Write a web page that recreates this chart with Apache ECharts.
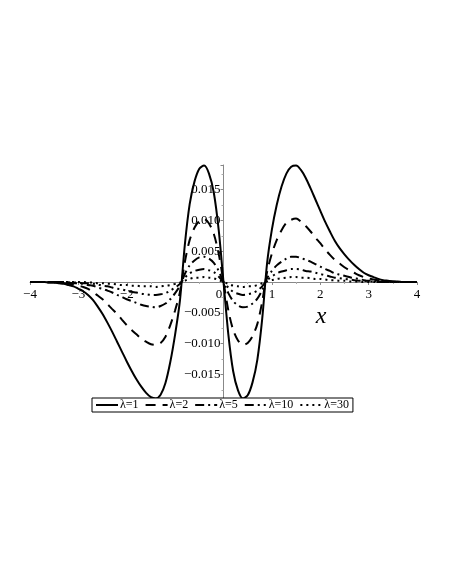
<!DOCTYPE html>
<html>
<head>
<meta charset="utf-8">
<title>lambda curves</title>
<script src="https://cdn.jsdelivr.net/npm/echarts@6/dist/echarts.min.js"></script>
<style>
  html, body { margin: 0; padding: 0; background: #fff; }
</style>
</head>
<body>
<div id="main" style="width:449px;height:580px;"></div>
<script type="text/javascript">
var xs = [-4.0, -3.9, -3.8, -3.7, -3.6, -3.5, -3.4, -3.3, -3.2, -3.1,
  -3.0, -2.9, -2.8, -2.7, -2.6, -2.5, -2.4, -2.3, -2.2, -2.1,
  -2.0, -1.9, -1.8, -1.7, -1.6, -1.5, -1.4, -1.3, -1.2, -1.1,
  -1.0, -0.9, -0.8, -0.7, -0.6, -0.5, -0.4, -0.3, -0.2, -0.1,
  0, 0.1, 0.2, 0.3, 0.4, 0.5, 0.6, 0.7, 0.8, 0.9,
  1.0, 1.1, 1.2, 1.3, 1.4, 1.5, 1.6, 1.7, 1.8, 1.9,
  2.0, 2.1, 2.2, 2.3, 2.4, 2.5, 2.6, 2.7, 2.8, 2.9,
  3.0, 3.1, 3.2, 3.3, 3.4, 3.5, 3.6, 3.7, 3.8, 3.9,
  4.0];

var lam1 = [0, 0, 0, 0, -0.0001, -0.0001, -0.0002, -0.0003, -0.0005, -0.0007,
  -0.0011, -0.0015, -0.0021, -0.0029, -0.0040, -0.0052, -0.0066, -0.0081, -0.0097, -0.0113,
  -0.0129, -0.0144, -0.0158, -0.0170, -0.0180, -0.0187, -0.0189, -0.0183, -0.0164, -0.0130,
  -0.0085, -0.0030, 0.0060, 0.0126, 0.0163, 0.0184, 0.0189, 0.0176, 0.0145, 0.0085,
  0, -0.0085, -0.0145, -0.0176, -0.0189, -0.0184, -0.0163, -0.0126, -0.0060, 0.0030,
  0.0085, 0.0125, 0.0155, 0.0176, 0.0187, 0.0189, 0.0182, 0.0169, 0.0152, 0.0134,
  0.0116, 0.0098, 0.0082, 0.0067, 0.0055, 0.0045, 0.0036, 0.0028, 0.0021, 0.0015,
  0.0011, 0.0008, 0.0005, 0.0003, 0.0002, 0.0001, 0.0001, 0, 0, 0,
  0];
var lam2 = [0, 0, 0, 0, -0.0001, -0.0001, -0.0001, -0.0002, -0.0003, -0.0004,
  -0.0006, -0.0008, -0.0011, -0.0016, -0.0022, -0.0028, -0.0036, -0.0044, -0.0052, -0.0061,
  -0.0070, -0.0078, -0.0085, -0.0092, -0.0097, -0.0101, -0.0102, -0.0099, -0.0089, -0.0070,
  -0.0046, -0.0016, 0.0032, 0.0068, 0.0088, 0.0099, 0.0102, 0.0095, 0.0078, 0.0046,
  0, -0.0046, -0.0078, -0.0095, -0.0102, -0.0099, -0.0088, -0.0068, -0.0032, 0.0016,
  0.0046, 0.0068, 0.0084, 0.0096, 0.0101, 0.0103, 0.0098, 0.0091, 0.0082, 0.0072,
  0.0063, 0.0053, 0.0044, 0.0036, 0.0030, 0.0024, 0.0019, 0.0015, 0.0011, 0.0008,
  0.0006, 0.0004, 0.0003, 0.0002, 0.0001, 0.0001, 0, 0, 0, 0,
  0];
var lam5 = [0, 0, 0, 0, 0, 0, 0, -0.0001, -0.0001, -0.0002,
  -0.0002, -0.0003, -0.0005, -0.0006, -0.0009, -0.0011, -0.0014, -0.0017, -0.0021, -0.0024,
  -0.0028, -0.0031, -0.0034, -0.0037, -0.0039, -0.0040, -0.0041, -0.0039, -0.0035, -0.0028,
  -0.0018, -0.0006, 0.0013, 0.0027, 0.0035, 0.0040, 0.0041, 0.0038, 0.0031, 0.0018,
  0, -0.0018, -0.0031, -0.0038, -0.0041, -0.0040, -0.0035, -0.0027, -0.0013, 0.0006,
  0.0018, 0.0027, 0.0033, 0.0038, 0.0041, 0.0041, 0.0039, 0.0036, 0.0033, 0.0029,
  0.0025, 0.0021, 0.0018, 0.0014, 0.0012, 0.0010, 0.0008, 0.0006, 0.0005, 0.0003,
  0.0002, 0.0002, 0.0001, 0.0001, 0, 0, 0, 0, 0, 0,
  0];
var lam10 = [0, 0, 0, 0, 0, 0, 0, 0, -0.0001, -0.0001,
  -0.0001, -0.0002, -0.0002, -0.0003, -0.0004, -0.0006, -0.0007, -0.0009, -0.0011, -0.0012,
  -0.0014, -0.0016, -0.0017, -0.0019, -0.0020, -0.0021, -0.0021, -0.0020, -0.0018, -0.0014,
  -0.0009, -0.0003, 0.0007, 0.0014, 0.0018, 0.0020, 0.0021, 0.0019, 0.0016, 0.0009,
  0, -0.0009, -0.0016, -0.0019, -0.0021, -0.0020, -0.0018, -0.0014, -0.0007, 0.0003,
  0.0009, 0.0014, 0.0017, 0.0019, 0.0021, 0.0021, 0.0020, 0.0018, 0.0017, 0.0015,
  0.0013, 0.0011, 0.0009, 0.0007, 0.0006, 0.0005, 0.0004, 0.0003, 0.0002, 0.0002,
  0.0001, 0.0001, 0, 0, 0, 0, 0, 0, 0, 0,
  0];
var lam30 = [0, 0, 0, 0, 0, 0, 0, 0, 0, 0,
  0, 0, -0.0001, -0.0001, -0.0002, -0.0002, -0.0003, -0.0003, -0.0004, -0.0005,
  -0.0005, -0.0006, -0.0006, -0.0007, -0.0007, -0.0007, -0.0008, -0.0007, -0.0006, -0.0005,
  -0.0003, -0.0001, 0.0002, 0.0005, 0.0007, 0.0007, 0.0008, 0.0007, 0.0006, 0.0003,
  0, -0.0003, -0.0006, -0.0007, -0.0008, -0.0007, -0.0007, -0.0005, -0.0002, 0.0001,
  0.0003, 0.0005, 0.0006, 0.0007, 0.0008, 0.0008, 0.0007, 0.0007, 0.0006, 0.0005,
  0.0005, 0.0004, 0.0003, 0.0003, 0.0002, 0.0002, 0.0001, 0.0001, 0.0001, 0,
  0, 0, 0, 0, 0, 0, 0, 0, 0, 0,
  0];

var names = ['λ=1', 'λ=2', 'λ=5', 'λ=10', 'λ=30'];
var values = [lam1, lam2, lam5, lam10, lam30];
var dashes = ['solid', [10, 7], [9, 4, 2, 4], [9, 4, 2, 4, 2, 4], [2, 4]];

var serif = 'Liberation Serif';

function pairs(ys) {
  return xs.map(function (x, i) { return [x, ys[i]]; });
}
function minus(s) {
  return String(s).replace('-', '\u2212');
}

var myChart = echarts.init(document.getElementById('main'));

var gridLeft = 30, gridWidth = 387, gridTop = 165, gridHeight = 234;
var yMin = -0.019, yMax = 0.019, xMin = -4, xMax = 4;

var option = {
  backgroundColor: '#fff',
  animation: false,
  grid: {
    left: gridLeft, width: gridWidth, top: gridTop, height: gridHeight,
    containLabel: false, outerBoundsMode: 'none'
  },
  xAxis: {
    type: 'value',
    min: xMin,
    max: xMax,
    interval: 1,
    position: 'bottom',
    // sit on y = 0 (labels included)
    offset: -gridHeight * (0 - yMin) / (yMax - yMin),
    splitLine: { show: false },
    axisLine: { onZero: false, lineStyle: { color: '#888', width: 1 } },
    axisTick: { show: true, inside: false, length: 3, lineStyle: { color: '#888' } },
    minorTick: { show: true, splitNumber: 2, length: 2, lineStyle: { color: '#aaa' } },
    axisLabel: {
      margin: 6,
      color: '#000',
      fontFamily: serif,
      fontSize: 13,
      formatter: function (v) {
        if (v === -1) return '';
        if (v === 0) return '{z|0}';
        return minus(v);
      },
      rich: { z: { padding: [0, 9, 0, 0], fontFamily: serif, fontSize: 13, color: '#000' } }
    }
  },
  yAxis: {
    type: 'value',
    min: yMin,
    max: yMax,
    splitNumber: 8,
    position: 'left',
    // sit on x = 0 (labels included)
    offset: -gridWidth * (0 - xMin) / (xMax - xMin),
    splitLine: { show: false },
    axisLine: { onZero: false, lineStyle: { color: '#888', width: 1 } },
    axisTick: { show: true, inside: false, length: 3, lineStyle: { color: '#888' } },
    minorTick: { show: true, splitNumber: 2, length: 2, lineStyle: { color: '#aaa' } },
    axisLabel: {
      margin: 3,
      color: '#000',
      fontFamily: serif,
      fontSize: 13,
      formatter: function (v) {
        if (Math.abs(v) < 1e-9 || Math.abs(v) > 0.0175) return '';
        return minus(v.toFixed(3));
      }
    }
  },
  legend: {
    left: 92,
    top: 398,
    orient: 'horizontal',
    padding: [1, 4, 1, 3],
    itemGap: 6,
    itemWidth: 22,
    itemHeight: 10,
    borderColor: '#000',
    borderWidth: 1,
    backgroundColor: '#fff',
    itemStyle: { opacity: 0 },
    textStyle: { fontFamily: serif, fontSize: 12, color: '#000', padding: [0, 0, 0, -3] },
    data: names
  },
  graphic: [{
    type: 'text',
    x: 321,
    y: 317,
    style: {
      text: 'x',
      font: 'italic 24px "Liberation Serif"',
      fill: '#000',
      align: 'center',
      verticalAlign: 'middle'
    }
  }],
  series: names.map(function (n, i) {
    return {
      name: n,
      type: 'line',
      data: pairs(values[i]),
      smooth: 0.3,
      symbol: 'none',
      lineStyle: { color: '#000', width: 2, type: dashes[i] },
      itemStyle: { color: '#000' }
    };
  })
};

myChart.setOption(option);
</script>
</body>
</html>
